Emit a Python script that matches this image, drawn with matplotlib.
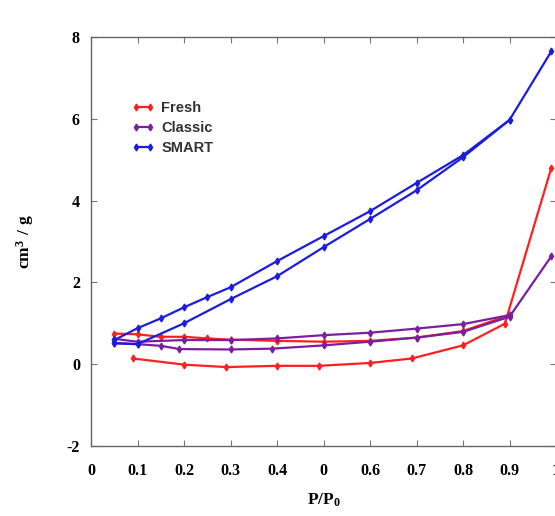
import matplotlib
matplotlib.use("Agg")
import matplotlib.pyplot as plt

# adsorption / desorption branches
fresh_ads_x = [0.09, 0.2, 0.29, 0.4, 0.49, 0.6, 0.69, 0.8, 0.89, 0.99]
fresh_ads_y = [0.14, -0.01, -0.07, -0.04, -0.04, 0.03, 0.14, 0.46, 0.99, 4.8]
fresh_des_x = [0.9, 0.8, 0.7, 0.6, 0.5, 0.4, 0.3, 0.25, 0.2, 0.15, 0.1, 0.05]
fresh_des_y = [1.2, 0.81, 0.65, 0.57, 0.55, 0.57, 0.6, 0.63, 0.67, 0.67, 0.73, 0.75]

classic_ads_x = [0.05, 0.1, 0.15, 0.19, 0.3, 0.39, 0.5, 0.6, 0.7, 0.8, 0.9, 0.99]
classic_ads_y = [0.52, 0.49, 0.45, 0.37, 0.36, 0.38, 0.46, 0.55, 0.65, 0.79, 1.16, 2.64]
classic_des_x = [0.9, 0.8, 0.7, 0.6, 0.5, 0.4, 0.3, 0.2, 0.1, 0.05]
classic_des_y = [1.2, 0.98, 0.87, 0.77, 0.71, 0.63, 0.59, 0.59, 0.55, 0.62]

smart_ads_x = [0.05, 0.1, 0.2, 0.3, 0.4, 0.5, 0.6, 0.7, 0.8, 0.9, 0.99]
smart_ads_y = [0.51, 0.49, 1.0, 1.59, 2.15, 2.86, 3.55, 4.25, 5.06, 5.97, 7.65]
smart_des_x = [0.9, 0.8, 0.7, 0.6, 0.5, 0.4, 0.3, 0.25, 0.2, 0.15, 0.1, 0.05]
smart_des_y = [5.97, 5.11, 4.43, 3.74, 3.13, 2.52, 1.88, 1.64, 1.39, 1.12, 0.88, 0.59]

x_ticks = [0, 0.1, 0.2, 0.3, 0.4, 0.5, 0.6, 0.7, 0.8, 0.9, 1.0]
x_tick_labels = ["0", "0.1", "0.2", "0.3", "0.4", "0", "0.6", "0.7", "0.8", "0.9", "1"]
y_ticks = [-2, 0, 2, 4, 6, 8]

RED = "#ff1f1f"
PURPLE = "#7a1f9e"
BLUE = "#1c1ce0"

plt.rcParams["mathtext.fontset"] = "custom"
plt.rcParams["mathtext.rm"] = "Liberation Serif"
plt.rcParams["mathtext.bf"] = "Liberation Serif:bold"

fig = plt.figure(figsize=(5.55, 5.16), dpi=100)
ax = fig.add_axes([91 / 555, 70 / 516, 465 / 555, 409 / 516])

style = dict(linewidth=1.6, marker="d", markersize=3.5)

ax.plot(fresh_ads_x, fresh_ads_y, color=RED, label="Fresh", **style)
ax.plot(fresh_des_x, fresh_des_y, color=RED, **style)
ax.plot(classic_ads_x, classic_ads_y, color=PURPLE, label="Classic", **style)
ax.plot(classic_des_x, classic_des_y, color=PURPLE, **style)
ax.plot(smart_ads_x, smart_ads_y, color=BLUE, label="SMART", **style)
ax.plot(smart_des_x, smart_des_y, color=BLUE, **style)

ax.set_xlim(0, 1)
ax.set_ylim(-2, 8)

serif_bold = dict(family="Liberation Serif", weight="bold", size=11.5)
ax.set_xticks(x_ticks)
ax.set_xticklabels(x_tick_labels, fontdict=serif_bold)
ax.set_yticks(y_ticks)
ax.set_yticklabels([str(v) for v in y_ticks], fontdict=serif_bold)
ax.tick_params(direction="in", length=4, width=0.8, color="#777777",
               top=True, right=True)
ax.tick_params(axis="x", pad=12)
ax.tick_params(axis="y", pad=8)

for s in ax.spines.values():
    s.set_color("#666666")
    s.set_linewidth(1.0)

ax.set_xlabel(r"$\mathbf{P/P_0}$", size=12.5, labelpad=9)
ax.set_ylabel(r"$\mathbf{cm^3\ /\ g}$", size=12.5, labelpad=22)

leg = ax.legend(loc="upper left", bbox_to_anchor=(0.06, 0.875), frameon=False,
                numpoints=2, handlelength=1.5, handletextpad=0.5,
                labelspacing=0.4,
                prop=dict(family="Liberation Sans", weight="bold", size=10.5))
for t in leg.get_texts():
    t.set_color("#333333")

fig.savefig("out.png", dpi=100)
